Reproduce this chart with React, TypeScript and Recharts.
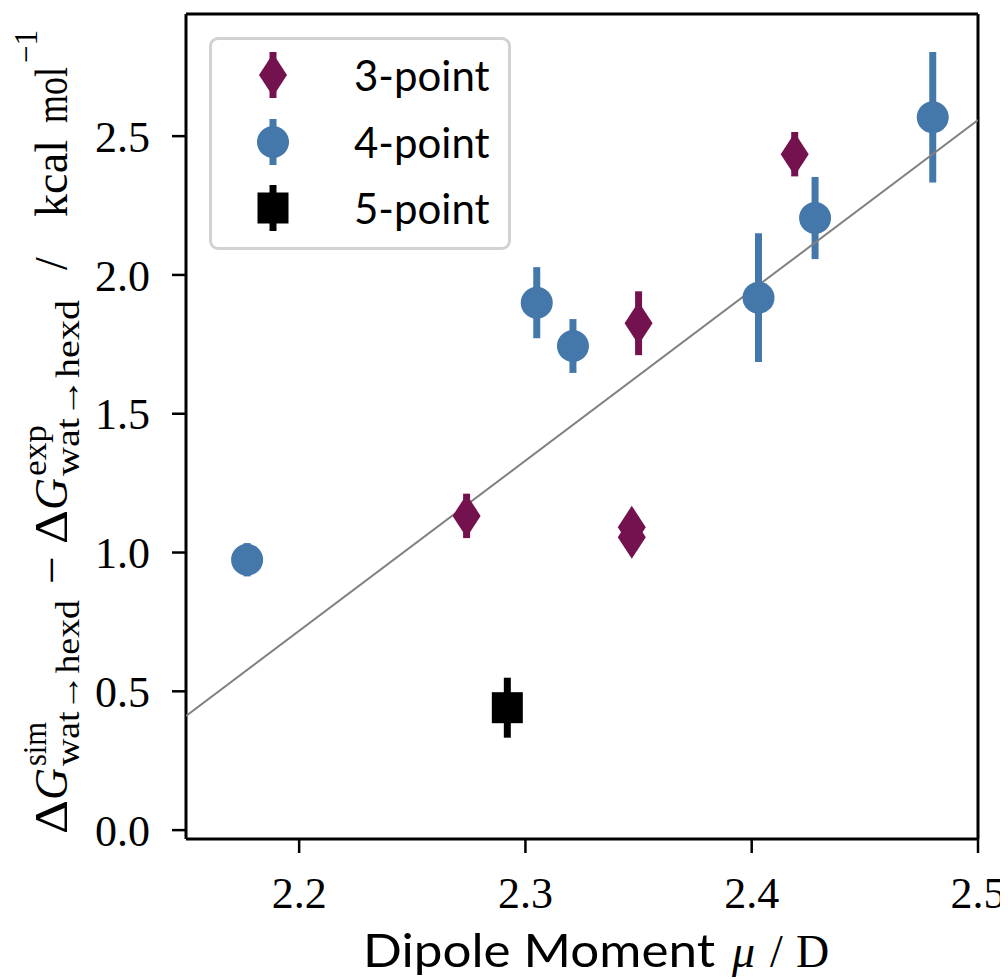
import { ErrorBar, Legend, ReferenceLine, Scatter, ScatterChart, XAxis, YAxis } from 'recharts'

// dipole moment (D) vs. hydration free energy error
const threePointMu = [2.274, 2.347, 2.347, 2.35, 2.419]
const threePointDG = [1.132, 1.091, 1.055, 1.826, 2.435]
const threePointErr = [0.08, 0.03, 0.03, 0.115, 0.08]

const fourPointMu = [2.177, 2.305, 2.321, 2.403, 2.428, 2.48]
const fourPointDG = [0.974, 1.9, 1.744, 1.918, 2.205, 2.568]
const fourPointErr = [0.06, 0.128, 0.097, 0.232, 0.148, 0.235]

const fivePointMu = [2.292]
const fivePointDG = [0.441]
const fivePointErr = [0.108]

const fitMu = [2.15, 2.5]
const fitDG = [0.411, 2.558]

const seriesNames = ['3-point', '4-point', '5-point']
const xTicks = [2.2, 2.3, 2.4, 2.5]
const yTicks = [0, 0.5, 1, 1.5, 2, 2.5]

const X_MIN = 2.15
const X_MAX = 2.5
const Y_MIN = -0.032
const Y_MAX = 2.94

const PURPLE = '#74124f'
const BLUE = '#4477aa'
const BLACK = '#000000'
const SERIF = '"Liberation Serif", "DejaVu Serif", serif'
const SANS = 'Lato, "Open Sans", sans-serif'

const toPoints = (xs: number[], ys: number[], errs?: number[]) =>
  xs.map((x, i) => ({ x, y: ys[i], err: errs ? errs[i] : 0 }))

const threePoint = toPoints(threePointMu, threePointDG, threePointErr)
const fourPoint = toPoints(fourPointMu, fourPointDG, fourPointErr)
const fivePoint = toPoints(fivePointMu, fivePointDG, fivePointErr)
const fitLine = toPoints(fitMu, fitDG)

// eslint-disable-next-line @typescript-eslint/no-explicit-any
const Diamond = ({ cx, cy }: any) => (
  <polygon
    points={`${cx},${cy - 21.5} ${cx + 14},${cy} ${cx},${cy + 21.5} ${cx - 14},${cy}`}
    fill={PURPLE}
  />
)
// eslint-disable-next-line @typescript-eslint/no-explicit-any
const Dot = ({ cx, cy }: any) => <circle cx={cx} cy={cy} r={16} fill={BLUE} />
// eslint-disable-next-line @typescript-eslint/no-explicit-any
const Square = ({ cx, cy }: any) => <rect x={cx - 15.5} y={cy - 15.5} width={31} height={31} fill={BLACK} />

function LegendMarker({ kind }: { kind: number }) {
  const color = [PURPLE, BLUE, BLACK][kind]
  return (
    <svg width={40} height={50} style={{ position: 'absolute', left: -20, top: -25 }}>
      <line x1={20} x2={20} y1={2} y2={48} stroke={color} strokeWidth={7} />
      {kind === 0 && <polygon points='20,3.5 34,25 20,46.5 6,25' fill={color} />}
      {kind === 1 && <circle cx={20} cy={25} r={16} fill={color} />}
      {kind === 2 && <rect x={4.5} y={9.5} width={31} height={31} fill={color} />}
    </svg>
  )
}

function LegendBox() {
  const rows = [38, 105, 171]
  return (
    <div
      style={{
        position: 'relative',
        width: 302,
        height: 213,
        boxSizing: 'border-box',
        border: '3px solid #d2d2d2',
        borderRadius: 9,
        background: 'rgba(255,255,255,0.8)',
      }}
    >
      {seriesNames.map((name, i) => (
        <div key={name}>
          <div style={{ position: 'absolute', left: 61, top: rows[i] - 3 }}>
            <LegendMarker kind={i} />
          </div>
          <div
            style={{
              position: 'absolute',
              left: 142,
              top: rows[i] - 31,
              fontFamily: SANS,
              fontSize: 42,
              lineHeight: '56px',
              color: '#000',
            }}
          >
            {name}
          </div>
        </div>
      ))}
    </div>
  )
}

// y label, drawn rotated; numbers are the page-y span of each piece (bottom -> top)
const LABEL_BOTTOM = 834
function YLabel() {
  const bx = 59
  const by = LABEL_BOTTOM - 8
  const seg = (
    key: string,
    text: string,
    y0: number,
    y1: number | null,
    size: number,
    v: number,
    italic = false,
  ) => (
    <text
      key={key}
      x={LABEL_BOTTOM - y0}
      y={v}
      fontSize={size}
      fontFamily={SERIF}
      fontStyle={italic ? 'italic' : 'normal'}
      textLength={y1 === null ? undefined : y0 - y1}
      lengthAdjust={y1 === null ? undefined : 'spacingAndGlyphs'}
      fill='#000'
    >
      {text}
    </text>
  )
  return (
    <g transform={`translate(${bx}, ${by}) rotate(-90)`}>
      {seg('d1', 'Δ', 834, 800, 46, 0)}
      {seg('g1', 'G', 800, 768, 46, 0, true)}
      {seg('sim', 'sim', 766, 722, 33, -21)}
      {seg('s1', 'wat→hexd', 766, 600, 33, 12)}
      {seg('minus', '−', 584, 556, 46, 0)}
      {seg('d2', 'Δ', 544, 510, 46, 0)}
      {seg('g2', 'G', 510, 478, 46, 0, true)}
      {seg('exp', 'exp', 476, 425, 33, -21)}
      {seg('s2', 'wat→hexd', 476, 300, 33, 12)}
      {seg('slash', '/', 270, null, 46, 0)}
      {seg('kcal', 'kcal', 217, 140, 46, 0)}
      {seg('mol', 'mol', 123, 67, 46, 0)}
      {seg('inv', '−1', 63, 30, 33, -30)}
    </g>
  )
}

function XLabel() {
  const base = 959
  return (
    <g>
      <text x={355} y={base} fontSize={46} fontFamily={SANS} textLength={352} lengthAdjust='spacingAndGlyphs' fill='#000'>
        Dipole Moment
      </text>
      <text x={724} y={base} fontSize={46} fontFamily={SERIF} fontStyle='italic' fill='#000'>
        μ
      </text>
      <text x={762} y={base} fontSize={46} fontFamily={SERIF} fill='#000'>
        /
      </text>
      <text x={788} y={base} fontSize={46} fontFamily={SERIF} fill='#000'>
        D
      </text>
    </g>
  )
}

const tickStyle = { fill: '#000', fontSize: 44, fontFamily: SERIF }

export default function App() {
  return (
    <div style={{ width: 1000, height: 971, position: 'relative', background: '#fff' }}>
      <ScatterChart width={1000} height={971} margin={{ top: 6, right: 30, bottom: 0, left: 0 }}>
        <XAxis
          type='number'
          dataKey='x'
          domain={[X_MIN, X_MAX]}
          ticks={xTicks}
          allowDataOverflow
          tickFormatter={(v: number) => v.toFixed(1)}
          height={140}
          tickSize={14}
          tickMargin={24}
          tick={tickStyle}
          axisLine={{ stroke: '#000', strokeWidth: 3 }}
          tickLine={{ stroke: '#000', strokeWidth: 2.5 }}
          label={{ content: () => <XLabel /> }}
        />
        <YAxis
          type='number'
          dataKey='y'
          domain={[Y_MIN, Y_MAX]}
          ticks={yTicks}
          allowDataOverflow
          tickFormatter={(v: number) => v.toFixed(1)}
          width={178}
          tickSize={14}
          tickMargin={22}
          tick={tickStyle}
          axisLine={{ stroke: '#000', strokeWidth: 3 }}
          tickLine={{ stroke: '#000', strokeWidth: 2.5 }}
          label={{ content: () => <YLabel /> }}
        />
        <ReferenceLine x={X_MAX} stroke='#000' strokeWidth={3} ifOverflow='visible' />
        <ReferenceLine y={Y_MAX} stroke='#000' strokeWidth={3} ifOverflow='visible' />
        <Scatter
          name='fit'
          data={fitLine}
          line={{ stroke: '#808080', strokeWidth: 2 }}
          shape={() => <g />}
          legendType='none'
          isAnimationActive={false}
        />
        <Scatter name={seriesNames[0]} data={threePoint} fill={PURPLE} shape={Diamond} isAnimationActive={false}>
          <ErrorBar dataKey='err' direction='y' width={0} strokeWidth={7} stroke={PURPLE} isAnimationActive={false} />
        </Scatter>
        <Scatter name={seriesNames[1]} data={fourPoint} fill={BLUE} shape={Dot} isAnimationActive={false}>
          <ErrorBar dataKey='err' direction='y' width={0} strokeWidth={7} stroke={BLUE} isAnimationActive={false} />
        </Scatter>
        <Scatter name={seriesNames[2]} data={fivePoint} fill={BLACK} shape={Square} isAnimationActive={false}>
          <ErrorBar dataKey='err' direction='y' width={0} strokeWidth={7} stroke={BLACK} isAnimationActive={false} />
        </Scatter>
        <Legend
          layout='vertical'
          align='center'
          verticalAlign='middle'
          content={() => <LegendBox />}
          wrapperStyle={{ position: 'absolute', left: 201, top: 29, width: 302, height: 213 }}
        />
      </ScatterChart>
    </div>
  )
}
